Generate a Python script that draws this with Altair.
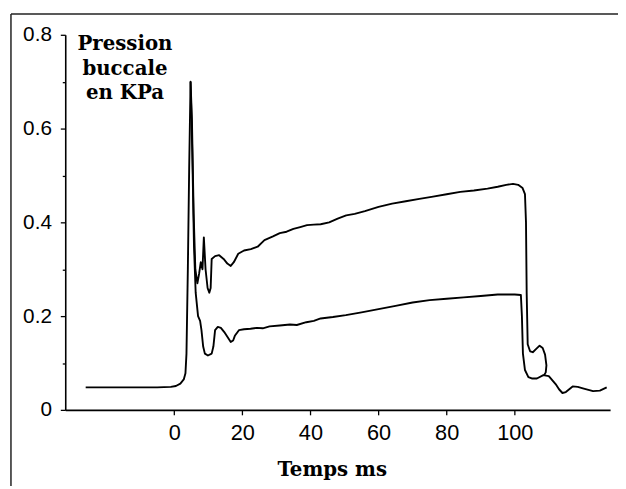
import altair as alt
import pandas as pd

# Upper trace (includes baseline and initial burst)
upper_t = [-26, -15, -5, -1, 0.5, 1.8, 2.8, 3.3, 3.6, 4.0, 4.4, 4.8, 5.2, 5.7, 6.2, 6.8, 7.3, 7.8, 8.3,
           8.7, 9.2, 9.8, 10.3, 10.7, 11.0, 12.0, 13.2, 14.5, 15.6, 16.6, 17.5, 18.8, 20.5, 22.5, 24.5,
           26.5, 29, 31, 33, 35, 37, 39, 41, 43, 45.5, 48, 50.5, 53, 56, 60, 64, 68, 72, 76, 80, 84,
           88, 92, 95, 97.5, 99.5, 101, 102.3, 103.0, 103.3, 103.5, 103.8, 104.5, 105.3, 106.3,
           107.3, 108.2, 108.9, 109.3, 109.1, 108.6]
upper_p = [0.048, 0.048, 0.048, 0.049, 0.051, 0.056, 0.065, 0.078, 0.12, 0.30, 0.52, 0.70, 0.62, 0.42,
           0.30, 0.27, 0.29, 0.315, 0.30, 0.368, 0.30, 0.26, 0.25, 0.26, 0.322, 0.328, 0.33, 0.322,
           0.312, 0.307, 0.315, 0.333, 0.34, 0.343, 0.348, 0.362, 0.370, 0.377, 0.380, 0.386, 0.390,
           0.394, 0.395, 0.396, 0.400, 0.408, 0.415, 0.418, 0.424, 0.433, 0.440, 0.445, 0.450, 0.455,
           0.460, 0.465, 0.468, 0.472, 0.476, 0.480, 0.482, 0.480, 0.473, 0.460, 0.400, 0.250, 0.140,
           0.125, 0.123, 0.130, 0.137, 0.132, 0.118, 0.095, 0.080, 0.074]

# Lower trace
lower_t = [4.8, 5.3, 5.8, 6.3, 7.0, 7.6, 8.0, 8.5, 9.0, 9.9, 11.0, 11.5, 12.0, 12.8, 13.7, 14.7, 15.7,
           16.6, 17.3, 17.8, 19, 20.5, 22.4, 24.3, 26, 28, 31, 34, 36, 38.8, 41, 43, 46.6, 50.4, 55,
           60, 65, 70, 75, 80, 85, 90, 95, 100, 101.8, 102.1, 102.4, 103.0, 104, 105, 106.5, 108.4,
           110, 112, 113, 114, 115, 117, 118.5, 120, 123, 125, 127]
lower_p = [0.70, 0.55, 0.35, 0.25, 0.20, 0.19, 0.17, 0.135, 0.12, 0.116, 0.12, 0.135, 0.17, 0.177, 0.175,
           0.166, 0.155, 0.145, 0.148, 0.158, 0.170, 0.172, 0.173, 0.175, 0.174, 0.178, 0.180, 0.182,
           0.181, 0.187, 0.190, 0.195, 0.198, 0.202, 0.208, 0.215, 0.222, 0.229, 0.234, 0.237, 0.240,
           0.243, 0.246, 0.246, 0.245, 0.200, 0.120, 0.085, 0.070, 0.067, 0.067, 0.074, 0.072, 0.055,
           0.044, 0.036, 0.038, 0.050, 0.049, 0.046, 0.040, 0.041, 0.048]

x_ticks = [0, 20, 40, 60, 80, 100]
y_ticks = [0, 0.1, 0.2, 0.3, 0.4, 0.5, 0.6, 0.7, 0.8]
y_title = ["Pression", "buccale", "en KPa"]
x_title = "Temps ms"

rows = []
for i, (t, p) in enumerate(zip(upper_t, upper_p)):
    rows.append({"series": "haut", "i": i, "t": t, "p": p})
for i, (t, p) in enumerate(zip(lower_t, lower_p)):
    rows.append({"series": "bas", "i": i, "t": t, "p": p})
df = pd.DataFrame(rows)

W, H = 552, 380

lines = alt.Chart(df).mark_line(color="black", strokeWidth=1.9, strokeJoin="round").encode(
    x=alt.X("t:Q", scale=alt.Scale(domain=[-32, 128], nice=False, zero=False),
            axis=alt.Axis(values=x_ticks, title=x_title, grid=False, tickSize=5, tickWidth=1.3,
                          tickColor="black", domainColor="black", domainWidth=1.6,
                          labelFont="Liberation Sans", labelFontSize=22, labelColor="black",
                          labelPadding=8, labelFlush=False,
                          titleFont="DejaVu Serif", titleFontWeight="bold", titleFontSize=20,
                          titleColor="black", titleX=270, titleY=66, titleAlign="center",
                          titleBaseline="alphabetic")),
    y=alt.Y("p:Q", scale=alt.Scale(domain=[0, 0.8], nice=False),
            axis=alt.Axis(values=y_ticks, grid=False,
                          labelExpr="round(datum.value*10) % 2 == 1 ? '' : (datum.value < 0.01 ? '0' : format(datum.value, '.1f'))",
                          tickSize={"condition": {"test": "round(datum.value*10) % 2 == 1", "value": 3}, "value": 5},
                          tickWidth=1.3, tickColor="black", domainColor="black", domainWidth=1.6,
                          labelFont="Liberation Sans", labelFontSize=21, labelColor="black",
                          labelPadding=9, labelFlush=False,
                          title=y_title, titleAngle=0, titleAlign="center", titleBaseline="alphabetic",
                          titleX=60, titleY=15, titleFont="DejaVu Serif", titleFontWeight="bold",
                          titleFontSize=20, titleLineHeight=25, titleColor="black")),
    detail="series:N",
    order="i:Q",
)

frame_df = pd.DataFrame({"k": [0]})
top_border = alt.Chart(frame_df).mark_rule(color="#222", strokeWidth=1.5).encode(
    x=alt.value(-55), x2=alt.value(W + 8), y=alt.value(-21))
left_border = alt.Chart(frame_df).mark_rule(color="#222", strokeWidth=1.5).encode(
    x=alt.value(-55), y=alt.value(-21), y2=alt.value(H + 77))

chart = alt.layer(lines, top_border, left_border).properties(
    width=W, height=H,
    autosize=alt.AutoSizeParams(type="none"),
    padding={"left": 58, "top": 24, "right": 8, "bottom": 77},
    background="white",
).configure_view(stroke=None)

chart.save("out.html", embed_options={"renderer": "svg", "actions": False})
